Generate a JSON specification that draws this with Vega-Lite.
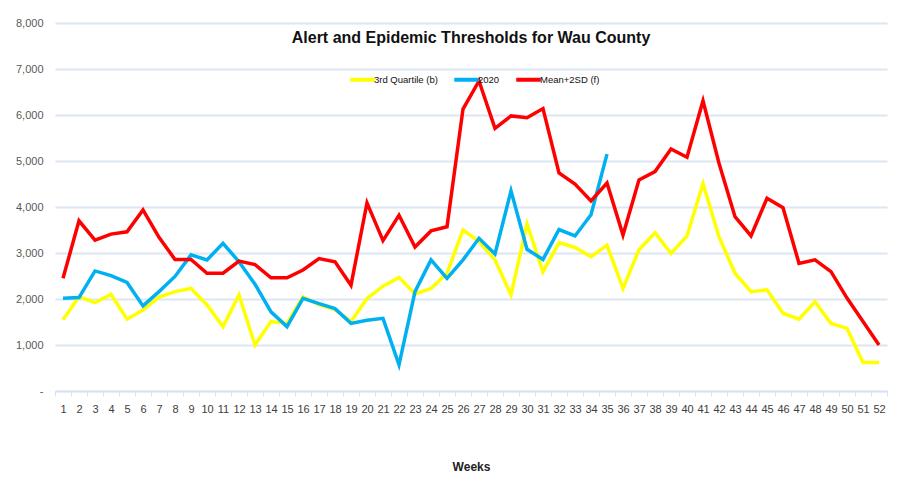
{
  "$schema": "https://vega.github.io/schema/vega-lite/v6.json",
  "autosize": {"type": "none"},
  "width": 832,
  "height": 368,
  "padding": {"left": 55, "top": 23, "right": 31, "bottom": 101},
  "background": "white",
  "config": {
    "view": {"stroke": null},
    "font": "'Liberation Sans', sans-serif"
  },
  "title": {
    "text": "Alert and Epidemic Thresholds for Wau County",
    "anchor": "middle",
    "orient": "top",
    "offset": -29,
    "fontSize": 16,
    "fontWeight": "bold",
    "color": "#111111",
    "font": "'Liberation Sans', sans-serif"
  },
  "data": {
    "values": [
      {"week": 1, "series": "3rd Quartile (b)", "value": 1550},
      {"week": 2, "series": "3rd Quartile (b)", "value": 2050},
      {"week": 3, "series": "3rd Quartile (b)", "value": 1920},
      {"week": 4, "series": "3rd Quartile (b)", "value": 2100},
      {"week": 5, "series": "3rd Quartile (b)", "value": 1560},
      {"week": 6, "series": "3rd Quartile (b)", "value": 1760},
      {"week": 7, "series": "3rd Quartile (b)", "value": 2040},
      {"week": 8, "series": "3rd Quartile (b)", "value": 2160},
      {"week": 9, "series": "3rd Quartile (b)", "value": 2230},
      {"week": 10, "series": "3rd Quartile (b)", "value": 1870},
      {"week": 11, "series": "3rd Quartile (b)", "value": 1400},
      {"week": 12, "series": "3rd Quartile (b)", "value": 2090},
      {"week": 13, "series": "3rd Quartile (b)", "value": 1000},
      {"week": 14, "series": "3rd Quartile (b)", "value": 1510},
      {"week": 15, "series": "3rd Quartile (b)", "value": 1470},
      {"week": 16, "series": "3rd Quartile (b)", "value": 2050},
      {"week": 17, "series": "3rd Quartile (b)", "value": 1880},
      {"week": 18, "series": "3rd Quartile (b)", "value": 1770},
      {"week": 19, "series": "3rd Quartile (b)", "value": 1510},
      {"week": 20, "series": "3rd Quartile (b)", "value": 2010},
      {"week": 21, "series": "3rd Quartile (b)", "value": 2280},
      {"week": 22, "series": "3rd Quartile (b)", "value": 2470},
      {"week": 23, "series": "3rd Quartile (b)", "value": 2110},
      {"week": 24, "series": "3rd Quartile (b)", "value": 2230},
      {"week": 25, "series": "3rd Quartile (b)", "value": 2560},
      {"week": 26, "series": "3rd Quartile (b)", "value": 3500},
      {"week": 27, "series": "3rd Quartile (b)", "value": 3250},
      {"week": 28, "series": "3rd Quartile (b)", "value": 2850},
      {"week": 29, "series": "3rd Quartile (b)", "value": 2090},
      {"week": 30, "series": "3rd Quartile (b)", "value": 3630},
      {"week": 31, "series": "3rd Quartile (b)", "value": 2590},
      {"week": 32, "series": "3rd Quartile (b)", "value": 3225},
      {"week": 33, "series": "3rd Quartile (b)", "value": 3120},
      {"week": 34, "series": "3rd Quartile (b)", "value": 2920},
      {"week": 35, "series": "3rd Quartile (b)", "value": 3170},
      {"week": 36, "series": "3rd Quartile (b)", "value": 2230},
      {"week": 37, "series": "3rd Quartile (b)", "value": 3070},
      {"week": 38, "series": "3rd Quartile (b)", "value": 3440},
      {"week": 39, "series": "3rd Quartile (b)", "value": 2990},
      {"week": 40, "series": "3rd Quartile (b)", "value": 3370},
      {"week": 41, "series": "3rd Quartile (b)", "value": 4510},
      {"week": 42, "series": "3rd Quartile (b)", "value": 3350},
      {"week": 43, "series": "3rd Quartile (b)", "value": 2560},
      {"week": 44, "series": "3rd Quartile (b)", "value": 2160},
      {"week": 45, "series": "3rd Quartile (b)", "value": 2200},
      {"week": 46, "series": "3rd Quartile (b)", "value": 1690},
      {"week": 47, "series": "3rd Quartile (b)", "value": 1560},
      {"week": 48, "series": "3rd Quartile (b)", "value": 1940},
      {"week": 49, "series": "3rd Quartile (b)", "value": 1470},
      {"week": 50, "series": "3rd Quartile (b)", "value": 1360},
      {"week": 51, "series": "3rd Quartile (b)", "value": 620},
      {"week": 52, "series": "3rd Quartile (b)", "value": 620},
      {"week": 1, "series": "2020", "value": 2015},
      {"week": 2, "series": "2020", "value": 2030},
      {"week": 3, "series": "2020", "value": 2610},
      {"week": 4, "series": "2020", "value": 2510},
      {"week": 5, "series": "2020", "value": 2360},
      {"week": 6, "series": "2020", "value": 1850},
      {"week": 7, "series": "2020", "value": 2160},
      {"week": 8, "series": "2020", "value": 2490},
      {"week": 9, "series": "2020", "value": 2960},
      {"week": 10, "series": "2020", "value": 2850},
      {"week": 11, "series": "2020", "value": 3210},
      {"week": 12, "series": "2020", "value": 2810},
      {"week": 13, "series": "2020", "value": 2320},
      {"week": 14, "series": "2020", "value": 1720},
      {"week": 15, "series": "2020", "value": 1400},
      {"week": 16, "series": "2020", "value": 2015},
      {"week": 17, "series": "2020", "value": 1900},
      {"week": 18, "series": "2020", "value": 1790},
      {"week": 19, "series": "2020", "value": 1470},
      {"week": 20, "series": "2020", "value": 1540},
      {"week": 21, "series": "2020", "value": 1580},
      {"week": 22, "series": "2020", "value": 570},
      {"week": 23, "series": "2020", "value": 2160},
      {"week": 24, "series": "2020", "value": 2850},
      {"week": 25, "series": "2020", "value": 2450},
      {"week": 26, "series": "2020", "value": 2850},
      {"week": 27, "series": "2020", "value": 3320},
      {"week": 28, "series": "2020", "value": 2980},
      {"week": 29, "series": "2020", "value": 4350},
      {"week": 30, "series": "2020", "value": 3080},
      {"week": 31, "series": "2020", "value": 2860},
      {"week": 32, "series": "2020", "value": 3510},
      {"week": 33, "series": "2020", "value": 3370},
      {"week": 34, "series": "2020", "value": 3830},
      {"week": 35, "series": "2020", "value": 5150},
      {"week": 1, "series": "Mean+2SD (f)", "value": 2450},
      {"week": 2, "series": "Mean+2SD (f)", "value": 3700},
      {"week": 3, "series": "Mean+2SD (f)", "value": 3280},
      {"week": 4, "series": "Mean+2SD (f)", "value": 3410},
      {"week": 5, "series": "Mean+2SD (f)", "value": 3460},
      {"week": 6, "series": "Mean+2SD (f)", "value": 3935},
      {"week": 7, "series": "Mean+2SD (f)", "value": 3340},
      {"week": 8, "series": "Mean+2SD (f)", "value": 2860},
      {"week": 9, "series": "Mean+2SD (f)", "value": 2860},
      {"week": 10, "series": "Mean+2SD (f)", "value": 2560},
      {"week": 11, "series": "Mean+2SD (f)", "value": 2560},
      {"week": 12, "series": "Mean+2SD (f)", "value": 2825},
      {"week": 13, "series": "Mean+2SD (f)", "value": 2750},
      {"week": 14, "series": "Mean+2SD (f)", "value": 2460},
      {"week": 15, "series": "Mean+2SD (f)", "value": 2460},
      {"week": 16, "series": "Mean+2SD (f)", "value": 2630},
      {"week": 17, "series": "Mean+2SD (f)", "value": 2880},
      {"week": 18, "series": "Mean+2SD (f)", "value": 2810},
      {"week": 19, "series": "Mean+2SD (f)", "value": 2300},
      {"week": 20, "series": "Mean+2SD (f)", "value": 4090},
      {"week": 21, "series": "Mean+2SD (f)", "value": 3270},
      {"week": 22, "series": "Mean+2SD (f)", "value": 3820},
      {"week": 23, "series": "Mean+2SD (f)", "value": 3130},
      {"week": 24, "series": "Mean+2SD (f)", "value": 3480},
      {"week": 25, "series": "Mean+2SD (f)", "value": 3570},
      {"week": 26, "series": "Mean+2SD (f)", "value": 6130},
      {"week": 27, "series": "Mean+2SD (f)", "value": 6740},
      {"week": 28, "series": "Mean+2SD (f)", "value": 5710},
      {"week": 29, "series": "Mean+2SD (f)", "value": 5980},
      {"week": 30, "series": "Mean+2SD (f)", "value": 5940},
      {"week": 31, "series": "Mean+2SD (f)", "value": 6140},
      {"week": 32, "series": "Mean+2SD (f)", "value": 4740},
      {"week": 33, "series": "Mean+2SD (f)", "value": 4500},
      {"week": 34, "series": "Mean+2SD (f)", "value": 4130},
      {"week": 35, "series": "Mean+2SD (f)", "value": 4520},
      {"week": 36, "series": "Mean+2SD (f)", "value": 3390},
      {"week": 37, "series": "Mean+2SD (f)", "value": 4590},
      {"week": 38, "series": "Mean+2SD (f)", "value": 4770},
      {"week": 39, "series": "Mean+2SD (f)", "value": 5260},
      {"week": 40, "series": "Mean+2SD (f)", "value": 5080},
      {"week": 41, "series": "Mean+2SD (f)", "value": 6310},
      {"week": 42, "series": "Mean+2SD (f)", "value": 4950},
      {"week": 43, "series": "Mean+2SD (f)", "value": 3790},
      {"week": 44, "series": "Mean+2SD (f)", "value": 3370},
      {"week": 45, "series": "Mean+2SD (f)", "value": 4190},
      {"week": 46, "series": "Mean+2SD (f)", "value": 3985},
      {"week": 47, "series": "Mean+2SD (f)", "value": 2775},
      {"week": 48, "series": "Mean+2SD (f)", "value": 2850},
      {"week": 49, "series": "Mean+2SD (f)", "value": 2595},
      {"week": 50, "series": "Mean+2SD (f)", "value": 2020},
      {"week": 51, "series": "Mean+2SD (f)", "value": 1510},
      {"week": 52, "series": "Mean+2SD (f)", "value": 1000}
    ]
  },
  "mark": {"type": "line", "strokeWidth": 3.5, "strokeJoin": "miter"},
  "encoding": {
    "x": {
      "field": "week",
      "type": "ordinal",
      "scale": {"type": "band", "paddingInner": 0, "paddingOuter": 0},
      "axis": {
        "title": "Weeks",
        "titleFontSize": 12,
        "titleFontWeight": "bold",
        "titleColor": "#222222",
        "titlePadding": 47,
        "labelAngle": 0,
        "labelFontSize": 11,
        "labelColor": "#404040",
        "labelPadding": 7,
        "domainColor": "#d6e1f2",
        "domainWidth": 1.5,
        "tickColor": "#d6e1f2",
        "tickSize": 5,
        "tickWidth": 1,
        "tickBand": "extent",
        "grid": false
      }
    },
    "y": {
      "field": "value",
      "type": "quantitative",
      "scale": {"domain": [0, 8000], "nice": false},
      "axis": {
        "title": null,
        "values": [0, 1000, 2000, 3000, 4000, 5000, 6000, 7000, 8000],
        "labelExpr": "datum.value == 0 ? '-' : format(datum.value, ',')",
        "labelFontSize": 11,
        "labelColor": "#595959",
        "labelPadding": 12,
        "domain": false,
        "ticks": false,
        "grid": true,
        "gridColor": "#dce6f4",
        "gridWidth": 2
      }
    },
    "color": {
      "field": "series",
      "type": "nominal",
      "scale": {
        "domain": ["3rd Quartile (b)", "2020", "Mean+2SD (f)"],
        "range": ["#ffff00", "#00b0f0", "#ff0000"]
      },
      "legend": {
        "title": null,
        "orient": "none",
        "legendX": 293,
        "legendY": 42,
        "direction": "horizontal",
        "symbolType": "stroke",
        "symbolSize": 600,
        "symbolStrokeWidth": 4,
        "labelFontSize": 9.5,
        "labelColor": "#111111",
        "labelOffset": -3,
        "columnPadding": 8,
        "padding": 0
      }
    }
  }
}
